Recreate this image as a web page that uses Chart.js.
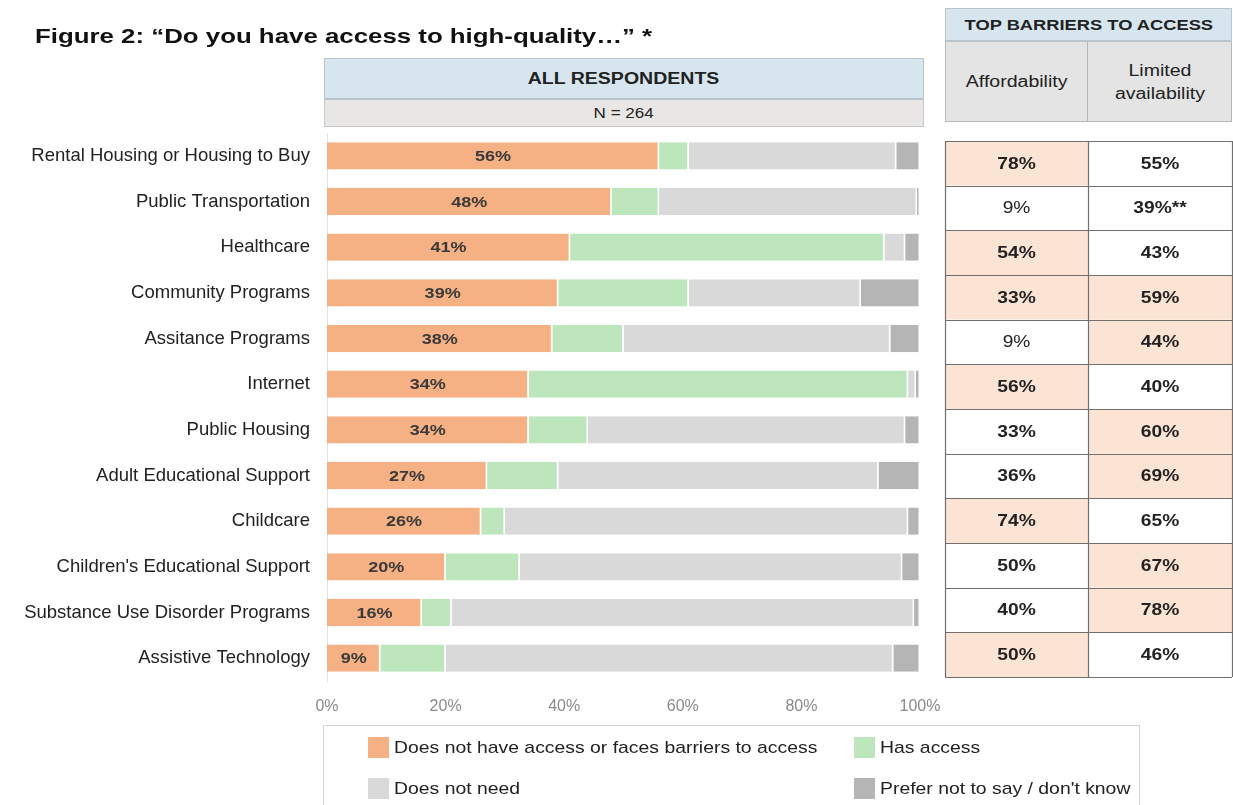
<!DOCTYPE html>
<html>
<head>
<meta charset="utf-8">
<script src="https://cdn.jsdelivr.net/npm/chart.js@4"></script>
<style>
  body { margin: 0; background: #fff; font-family: "Liberation Sans", Arial, sans-serif; color: #222; }
  #wrap { position: relative; width: 1233px; height: 805px; overflow: hidden; }
  #myChart_Access { position: absolute; left: 0; top: 0; }
  .box { position: absolute; box-sizing: border-box; display: flex; align-items: center; justify-content: center; text-align: center; }
  .st { display: inline-block; transform: scaleX(1.22); }
  #title { position: absolute; left: 35px; top: 24px; font-size: 21px; font-weight: bold; color: #111; white-space: nowrap; transform: scaleX(1.23); transform-origin: left center; }
  #legend { position: absolute; left: 323px; top: 725px; width: 817px; height: 100px; border: 1px solid #d4d4d4; box-sizing: border-box; }
  .lg { position: absolute; display: flex; align-items: center; font-size: 17px; color: #222; white-space: nowrap; }
  .lg span.sw { display: inline-block; width: 21px; height: 21px; margin-right: 5px; }
  .lg span.tx { display: inline-block; transform: scaleX(1.14); transform-origin: left center; }
</style>
</head>
<body>
<div id="wrap">
  <canvas id="myChart_Access" width="1233" height="805"></canvas>
  <div id="title">Figure 2: “Do you have access to high-quality…” *</div>

  <div class="box" style="left:324px;top:58px;width:600px;height:42px;background:#d7e6ee;border:1px solid #bcc5ca;border-bottom:2px solid #b9c4ca;font-weight:bold;font-size:16px;"><span class="st">ALL RESPONDENTS</span></div>
  <div class="box" style="left:324px;top:100px;width:600px;height:27px;background:#e8e7e5;border:1px solid #c8c8c8;border-top:none;font-size:14px;"><span class="st">N = 264</span></div>

  <div class="box" style="left:945px;top:8px;width:287px;height:34px;background:#d7e6ee;border:1px solid #bcc5ca;border-bottom:2px solid #b9c4ca;font-weight:bold;font-size:15px;"><span class="st">TOP BARRIERS TO ACCESS</span></div>
  <div class="box" style="left:945px;top:42px;width:143px;height:80px;background:#e4e4e4;border:1px solid #b8b8b8;border-top:none;font-size:16px;"><span class="st">Affordability</span></div>
  <div class="box" style="left:1088px;top:42px;width:144px;height:80px;background:#e4e4e4;border:1px solid #b8b8b8;border-top:none;border-left:none;font-size:16px;line-height:23px;"><span class="st">Limited<br>availability</span></div>

  <div id="legend"></div>
</div>

<script>
const categories = [
  "Rental Housing or Housing to Buy",
  "Public Transportation",
  "Healthcare",
  "Community Programs",
  "Assitance Programs",
  "Internet",
  "Public Housing",
  "Adult Educational Support",
  "Childcare",
  "Children's Educational Support",
  "Substance Use Disorder Programs",
  "Assistive Technology"
];

// share of respondents (%)
const noAccess   = [56, 48, 41, 39, 38, 34, 34, 27, 26, 20, 16, 9];
const hasAccess  = [5, 8, 53, 22, 12, 64, 10, 12, 4, 12.5, 5, 11];
const doesntNeed = [35, 43.5, 3.5, 29, 45, 1.3, 53.5, 54, 68, 64.5, 78, 75.5];
const preferNot  = [4, 0.5, 2.5, 10, 5, 0.7, 2.5, 7, 2, 3, 1, 4.5];

const seriesNames = [
  "Does not have access or faces barriers to access",
  "Has access",
  "Does not need",
  "Prefer not to say / don't know"
];
const seriesColors = ["#f5b183", "#bde6bd", "#d9d9d9", "#b5b5b5"];

const xTicks = [0, 20, 40, 60, 80, 100];

// top barriers table
const affordability    = ["78%", "9%", "54%", "33%", "9%", "56%", "33%", "36%", "74%", "50%", "40%", "50%"];
const affordabilityHi  = [1, 0, 1, 1, 0, 1, 0, 0, 1, 0, 0, 1];
const availability     = ["55%", "39%**", "43%", "59%", "44%", "40%", "60%", "69%", "65%", "67%", "78%", "46%"];
const availabilityHi   = [0, 0, 0, 1, 1, 0, 1, 1, 0, 1, 1, 0];

const FONT = '"Liberation Sans", Arial, sans-serif';
const STRETCH = 1.2;

// legend (2 x 2 grid)
const legendEl = document.getElementById("legend");
const legendPos = [[44, 11], [530, 11], [44, 52], [530, 52]];
seriesNames.forEach((name, i) => {
  const d = document.createElement("div");
  d.className = "lg";
  d.style.left = legendPos[i][0] + "px";
  d.style.top = legendPos[i][1] + "px";
  d.innerHTML = '<span class="sw" style="background:' + seriesColors[i] + '"></span><span class="tx">' + name + '</span>';
  legendEl.appendChild(d);
});

// stretched centred text, the source uses wide lettering
function wideText(ctx, txt, x, y) {
  ctx.save();
  ctx.translate(x, y);
  ctx.scale(STRETCH, 1);
  ctx.fillText(txt, 0, 0);
  ctx.restore();
}

// percent labels inside the orange segments
const barLabels = {
  id: "barLabels",
  afterDatasetsDraw(chart) {
    const ctx = chart.ctx;
    const meta = chart.getDatasetMeta(0);
    ctx.save();
    ctx.font = "bold 15px " + FONT;
    ctx.fillStyle = "#3a3a3a";
    ctx.textAlign = "center";
    ctx.textBaseline = "middle";
    meta.data.forEach((bar, i) => {
      wideText(ctx, noAccess[i] + "%", (bar.x + bar.base) / 2, bar.y + 1);
    });
    ctx.restore();
  }
};

// right hand table, rows follow the category scale
const barrierTable = {
  id: "barrierTable",
  afterDraw(chart) {
    const ctx = chart.ctx;
    const y = chart.scales.y;
    const step = y.getPixelForValue(1) - y.getPixelForValue(0);
    const c0 = 945, c1 = 1088, c2 = 1232;
    const rowH = step * 0.978;
    const mid = (y.getPixelForValue(0) + y.getPixelForValue(categories.length - 1)) / 2 + 2;
    const top = mid - rowH * categories.length / 2;
    ctx.save();
    for (let i = 0; i < categories.length; i++) {
      const ry = top + i * rowH;
      ctx.fillStyle = affordabilityHi[i] ? "#fce4d5" : "#ffffff";
      ctx.fillRect(c0, ry, c1 - c0, rowH);
      ctx.fillStyle = availabilityHi[i] ? "#fce4d5" : "#ffffff";
      ctx.fillRect(c1, ry, c2 - c1, rowH);
      ctx.fillStyle = "#222";
      ctx.textAlign = "center";
      ctx.textBaseline = "middle";
      ctx.font = (affordability[i] === "9%" ? "" : "bold ") + "16px " + FONT;
      wideText(ctx, affordability[i], (c0 + c1) / 2, ry + rowH / 2 + 1);
      ctx.font = "bold 16px " + FONT;
      wideText(ctx, availability[i], (c1 + c2) / 2, ry + rowH / 2 + 1);
    }
    ctx.strokeStyle = "#6f6f6f";
    ctx.lineWidth = 1.2;
    for (let i = 0; i <= categories.length; i++) {
      const ry = Math.round(top + i * rowH) + 0.5;
      ctx.beginPath();
      ctx.moveTo(c0, ry);
      ctx.lineTo(c2, ry);
      ctx.stroke();
    }
    [c0, c1, c2].forEach(cx => {
      ctx.beginPath();
      ctx.moveTo(cx + 0.5, top);
      ctx.lineTo(cx + 0.5, top + rowH * categories.length);
      ctx.stroke();
    });
    ctx.restore();
  }
};

const seriesData = [noAccess, hasAccess, doesntNeed, preferNot];

const accessGraph = () => {
  new Chart(document.getElementById("myChart_Access"), {
    type: "bar",
    data: {
      labels: categories,
      datasets: seriesData.map((d, i) => ({
        label: seriesNames[i],
        data: d,
        backgroundColor: seriesColors[i],
        borderColor: "#ffffff",
        borderWidth: { left: 0, right: 1.5, top: 0, bottom: 0 },
        borderSkipped: false,
        categoryPercentage: 0.6,
        barPercentage: 1
      }))
    },
    options: {
      indexAxis: "y",
      responsive: false,
      animation: false,
      layout: { padding: { top: 133, right: 313, left: 0, bottom: 0 } },
      plugins: {
        legend: { display: false },
        tooltip: { enabled: false }
      },
      scales: {
        x: {
          stacked: true,
          min: 0,
          max: 100,
          afterBuildTicks: s => { s.ticks = xTicks.map(v => ({ value: v })); },
          afterFit: s => { s.height = 124; },
          grid: { display: false, drawTicks: false },
          border: { display: false },
          ticks: {
            padding: 16,
            color: "#8a8a8a",
            font: { family: FONT, size: 16 },
            callback: v => v + "%"
          }
        },
        y: {
          stacked: true,
          afterFit: s => { s.width = 327; },
          grid: { display: false, drawTicks: false },
          border: { display: true, color: "#e2e2e2", width: 1 },
          ticks: {
            padding: 17,
            color: "#222",
            font: { family: FONT, size: 18.5 }
          }
        }
      }
    },
    plugins: [barLabels, barrierTable]
  });
};

window.addEventListener("load", accessGraph);
</script>
</body>
</html>
